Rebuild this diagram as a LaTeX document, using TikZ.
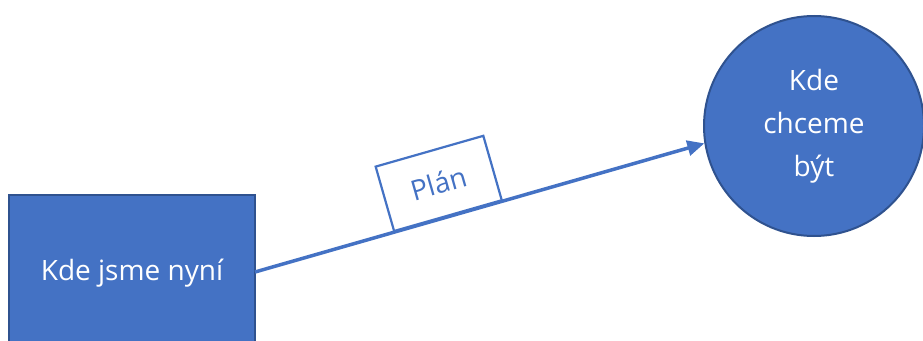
\documentclass[tikz,border=0pt]{standalone}
\usepackage{fontspec}
\setmainfont{Open Sans}
\usetikzlibrary{arrows.meta}
\definecolor{accent}{HTML}{4472C4}
\definecolor{edge}{HTML}{2F528F}
\begin{document}
\begin{tikzpicture}[x=1pt,y=-1pt,
  shapebox/.style={fill=accent,draw=edge,line width=2pt,text=white,font=\fontsize{28}{43}\selectfont,inner sep=0pt},
  connector/.style={accent,line width=3.5pt,-{Triangle[length=17pt,width=15pt]}},
  planbox/.style={draw=accent,fill=white,line width=2.2pt,text=accent,font=\fontsize{28}{34}\selectfont,minimum width=112pt,minimum height=67pt,inner sep=0pt}]
\useasboundingbox (0,0) rectangle (923,340);
\clip (0,0) rectangle (923,340);
\node[shapebox,rectangle,minimum width=246pt,minimum height=150pt] (now) at (132,270) {};
\node[text=white,font=\fontsize{28}{34}\selectfont] (nowtext) at (132,273) {Kde jsme nyní};
\node[shapebox,circle,minimum size=220pt,align=center] (goal) at (814,126) {Kde\\chceme\\být};
\coordinate (start) at (255,272);
\draw[connector] (start) -- (goal.189.4)
  node[pos=0.43,sloped,anchor=south,planbox] (plan) {Plán};
\end{tikzpicture}
\end{document}
